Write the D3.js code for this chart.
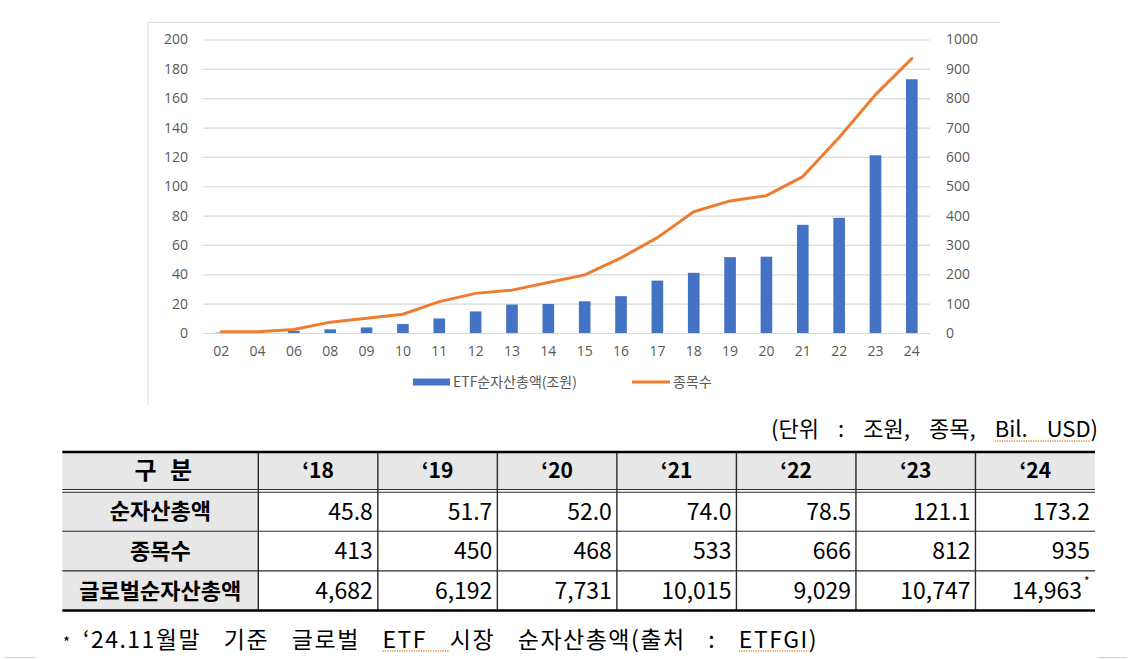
<!DOCTYPE html>
<html><head><meta charset="utf-8">
<script src="https://cdn.jsdelivr.net/npm/d3@7"></script>
<style>body{margin:0;background:#fff}svg{display:block}</style>
</head><body><svg id="c" width="1138" height="659"></svg>
<script>
// ---------- chart data ----------
const categories = ["02","04","06","08","09","10","11","12","13","14","15","16","17","18","19","20","21","22","23","24"];
const netAssetsSeries = [0.3,0.5,1.5,2.5,3.8,6.1,9.9,14.7,19.4,19.8,21.6,25.1,35.7,41.0,51.7,52.0,73.7,78.5,121.1,172.9];
const itemCountSeries = [4,4,12,37,50,64,107,135,146,172,198,256,325,413,450,468,533,666,812,935];
const leftTicks = [0,20,40,60,80,100,120,140,160,180,200];
const rightTicks = [0,100,200,300,400,500,600,700,800,900,1000];
const legendLabels = ["ETF순자산총액(조원)","종목수"];

// ---------- table data ----------
const tableHeader = "구 분";
const tableYears = ["‘18","‘19","‘20","‘21","‘22","‘23","‘24"];
const rowLabels = ["순자산총액","종목수","글로벌순자산총액"];
const rowNetAssets = [45.8,51.7,52.0,74.0,78.5,121.1,173.2];
const rowItemCounts = [413,450,468,533,666,812,935];
const rowGlobalAssets = [4682,6192,7731,10015,9029,10747,14963];
const unitText = "(단위 : 조원, 종목, Bil. USD)";
const footnoteText = "‘24.11월말 기준 글로벌 ETF 시장 순자산총액(출처 : ETFGI)";

const BLUE = "#4472C4", ORANGE = "#ED7D31", GRID = "#d9d9d9", AXIS_TXT = "#595959";
const chartFont = "'Open Sans', 'Noto Sans CJK KR', sans-serif";
const korFont = "'Noto Sans CJK KR', 'Noto Sans', sans-serif";

const svg = d3.select("#c");
svg.append("rect").attr("width",1138).attr("height",659).attr("fill","#fff");

// chart frame (partial, as in screenshot)
svg.append("line").attr("x1",148).attr("x2",148).attr("y1",22.5).attr("y2",405).attr("stroke","#dcdcdc");
svg.append("line").attr("x1",148).attr("x2",1000).attr("y1",22.5).attr("y2",22.5).attr("stroke","#dcdcdc");

const x = d3.scaleBand().domain(categories).range([203,930]).paddingInner(0.68).paddingOuter(0.34);
const yL = d3.scaleLinear().domain([0,200]).range([333,39.5]);
const yR = d3.scaleLinear().domain([0,1000]).range([333,39.5]);

// left axis + gridlines
const gL = svg.append("g").attr("transform","translate(203,0)")
  .call(d3.axisLeft(yL).tickValues(leftTicks).tickSize(-727).tickPadding(15));
gL.select(".domain").remove();
gL.selectAll(".tick line").attr("stroke",GRID).attr("stroke-width",1.2);
gL.selectAll(".tick text").attr("fill",AXIS_TXT).attr("font-size",14).attr("font-family",chartFont);

// right axis
const gR = svg.append("g").attr("transform","translate(930,0)")
  .call(d3.axisRight(yR).tickValues(rightTicks).tickFormat(d3.format("d")).tickSize(0).tickPadding(16));
gR.select(".domain").remove();
gR.selectAll(".tick text").attr("fill",AXIS_TXT).attr("font-size",14).attr("font-family",chartFont);

// bottom axis
const gB = svg.append("g").attr("transform","translate(0,333)")
  .call(d3.axisBottom(x).tickSize(0).tickPadding(13));
gB.select(".domain").remove();
gB.selectAll(".tick text").attr("fill",AXIS_TXT).attr("font-size",14).attr("font-family",chartFont);

// bars
svg.append("g").selectAll("rect").data(categories).join("rect")
  .attr("x",d=>x(d)).attr("width",x.bandwidth())
  .attr("y",(d,i)=>yL(netAssetsSeries[i]))
  .attr("height",(d,i)=>yL(0)-yL(netAssetsSeries[i]))
  .attr("fill",BLUE);

// line
const line = d3.line().x(d=>x(d[0])+x.bandwidth()/2).y(d=>yR(d[1]));
svg.append("path").datum(categories.map((c,i)=>[c,itemCountSeries[i]]))
  .attr("d",line).attr("fill","none").attr("stroke",ORANGE).attr("stroke-width",3)
  .attr("stroke-linejoin","round").attr("stroke-linecap","round");

// legend
const lg = svg.append("g").attr("font-family",korFont).attr("font-size",14).attr("fill",AXIS_TXT);
lg.append("rect").attr("x",413).attr("y",378.5).attr("width",37).attr("height",7).attr("fill",BLUE);
lg.append("text").attr("x",453).attr("y",387).text(legendLabels[0]);
lg.append("line").attr("x1",632).attr("x2",670).attr("y1",382).attr("y2",382).attr("stroke",ORANGE).attr("stroke-width",3);
lg.append("text").attr("x",673).attr("y",387).text(legendLabels[1]);

// helpers
const fitWords = (sel, target) => {
  const n = sel.node(); const len = n.getComputedTextLength();
  const spaces = (n.textContent.match(/ /g)||[]).length;
  if (spaces) sel.attr("word-spacing", Math.max(0,(target - len)/spaces).toFixed(2) + "px");
};
const squiggle = (node, sub, yOff) => {
  const s = node.textContent; const i = s.indexOf(sub); const j = i + sub.length - 1;
  const x1 = node.getStartPositionOfChar(i).x, x2 = node.getEndPositionOfChar(j).x;
  const y0 = node.getStartPositionOfChar(i).y + yOff;
  svg.append("line").attr("x1",x1).attr("x2",x2).attr("y1",y0).attr("y2",y0)
    .attr("stroke","#e5892f").attr("stroke-width",1.3).attr("stroke-dasharray","1.2,1.2");
};

// ---------- unit label ----------
const unit = svg.append("text").attr("x",771).attr("y",437).attr("font-family",korFont)
  .attr("font-size",22).attr("fill","#000").text(unitText);
fitWords(unit, 327);
squiggle(unit.node(),"Bil. USD",4);

// ---------- table ----------
const tL = 62.3, tFirst = 258.3, tR = 1095;
const colX = d3.scaleBand().domain(tableYears).range([tFirst,tR]);
const hTop = 452, hBot = 489.5;
const rowY = d3.scaleBand().domain(rowLabels).range([491.7,610.5]);
const rowsData = [
  rowNetAssets.map(d3.format(".1f")),
  rowItemCounts.map(d3.format("d")),
  rowGlobalAssets.map(d3.format(","))
];
const tg = svg.append("g");
tg.append("rect").attr("x",tL).attr("y",hTop).attr("width",tR-tL).attr("height",hBot-hTop).attr("fill","#e7e7e7");
tg.append("rect").attr("x",tL).attr("y",rowY.range()[0]).attr("width",tFirst-tL).attr("height",rowY.range()[1]-rowY.range()[0]).attr("fill","#e7e7e7");
[tFirst, ...tableYears.slice(1).map(d=>colX(d))].forEach(xx=>{
  tg.append("line").attr("x1",xx).attr("x2",xx).attr("y1",hTop).attr("y2",610.5).attr("stroke","#2a2a2a").attr("stroke-width",1.4);
});
const hline = (yy,w,c)=>tg.append("line").attr("x1",tL).attr("x2",tR).attr("y1",yy).attr("y2",yy).attr("stroke",c||"#2a2a2a").attr("stroke-width",w);
hline(hTop,2.6,"#000");
hline(hBot,1.1);
hline(hBot+2.8,1.1);
rowLabels.slice(1).forEach(r=>hline(rowY(r),1.1));
hline(610.5,2.6,"#000");

tg.append("text").attr("x",(tL+tFirst)/2+3).attr("y",(hTop+hBot)/2).attr("dy","0.36em")
  .attr("text-anchor","middle").attr("font-family",korFont).attr("font-weight","bold")
  .attr("font-size",24).attr("word-spacing","8px").text(tableHeader);
tg.selectAll("text.yr").data(tableYears).join("text").attr("class","yr")
  .attr("x",d=>colX(d)+colX.bandwidth()/2).attr("y",(hTop+hBot)/2).attr("dy","0.36em")
  .attr("text-anchor","middle").attr("font-family",korFont).attr("font-weight","bold").attr("font-size",21).text(d=>d);
tg.selectAll("text.rl").data(rowLabels).join("text").attr("class","rl")
  .attr("x",(tL+tFirst)/2).attr("y",d=>rowY(d)+rowY.bandwidth()/2).attr("dy","0.36em")
  .attr("text-anchor","middle").attr("font-family",korFont).attr("font-weight","bold").attr("font-size",22).text(d=>d);
rowsData.forEach((vals,ri)=>{
  const yy = rowY(rowLabels[ri]) + rowY.bandwidth()/2;
  vals.forEach((v,ci)=>{
    const last = (ri===2 && ci===tableYears.length-1);
    const xe = colX(tableYears[ci]) + colX.bandwidth() - (last ? 13 : 5);
    tg.append("text").attr("x",xe).attr("y",yy).attr("dy","0.36em").attr("text-anchor","end")
      .attr("font-family",korFont).attr("font-size",23).attr("fill","#000").text(v);
    if (last) tg.append("text").attr("x",xe+2).attr("y",yy-5).attr("font-family",korFont)
      .attr("font-size",12).text("*");
  });
});

// ---------- footnote ----------
svg.append("text").attr("x",63).attr("y",648).attr("font-family",korFont).attr("font-size",15).text("*");
const fn = svg.append("text").attr("x",83).attr("y",648).attr("font-family",korFont)
  .attr("font-size",23).attr("letter-spacing","1.5px").attr("fill","#000").text(footnoteText);
fitWords(fn, 735);
squiggle(fn.node(),"ETF ",3);
squiggle(fn.node(),"ETFGI",3);

// bottom edge artifacts
svg.append("line").attr("x1",5).attr("x2",35).attr("y1",657.5).attr("y2",657.5).attr("stroke","#d0d0d0");
svg.append("line").attr("x1",1098).attr("x2",1127).attr("y1",657.5).attr("y2",657.5).attr("stroke","#d0d0d0");
</script></body></html>
